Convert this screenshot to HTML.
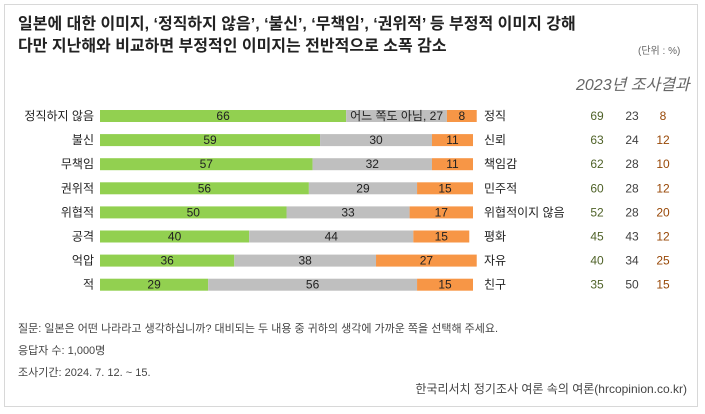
<!DOCTYPE html>
<html><head><meta charset="utf-8"><style>
body{margin:0;background:#fff;}
#root{position:relative;width:705px;height:414px;font-family:"Liberation Sans","Noto Sans CJK KR",sans-serif;color:#222;overflow:hidden;}
.frame{position:absolute;left:4px;top:4px;width:694px;height:403px;border:1px solid #d8d8d8;box-sizing:border-box;}
.t{position:absolute;white-space:nowrap;}
</style></head><body>
<div id="root">
<div class="frame"></div>
<div class="t" style="left:18px;top:14px;font-size:16px;font-weight:bold;line-height:22px;color:#222">일본에 대한 이미지, ‘정직하지 않음’, ‘불신’, ‘무책임’, ‘권위적’ 등 부정적 이미지 강해<br>다만 지난해와 비교하면 부정적인 이미지는 전반적으로 소폭 감소</div>
<div class="t" style="left:638px;top:42px;font-size:10px;color:#666">(단위 : %)</div>
<div class="t" style="left:576px;top:71px;font-size:16px;font-style:italic;color:#666">2023년 조사결과</div>
<svg id="chart" width="705" height="414" style="position:absolute;left:0;top:0"></svg>
<div class="t" style="left:18px;top:320px;font-size:11px;color:#444">질문: 일본은 어떤 나라라고 생각하십니까? 대비되는 두 내용 중 귀하의 생각에 가까운 쪽을 선택해 주세요.</div>
<div class="t" style="left:18px;top:342px;font-size:11px;color:#444">응답자 수: 1,000명</div>
<div class="t" style="left:18px;top:364px;font-size:11px;color:#444">조사기간: 2024. 7. 12. ~ 15.</div>
<div class="t" style="right:18px;top:380px;font-size:12px;color:#444">한국리서치 정기조사 여론 속의 여론(hrcopinion.co.kr)</div>
</div>
<script>
const negLabels=["정직하지 않음","불신","무책임","권위적","위협적","공격","억압","적"];
const posLabels=["정직","신뢰","책임감","민주적","위협적이지 않음","평화","자유","친구"];
const negValues=[66,59,57,56,50,40,36,29];
const midValues=[27,30,32,29,33,44,38,56];
const posValues=[8,11,11,15,17,15,27,15];
const prevNeg=[69,63,62,60,52,45,40,35];
const prevMid=[23,24,28,28,28,43,34,50];
const prevPos=[8,12,10,12,20,12,25,15];
const svg=document.getElementById('chart');
const NS='http://www.w3.org/2000/svg';
const x0=100,pxPer=3.73,y0=116,rowH=24.1,barH=12;
const xs=v=>x0+v*pxPer;
const ys=i=>y0+i*rowH;
function mk(tag,attrs,txt){const e=document.createElementNS(NS,tag);for(const k in attrs)e.setAttribute(k,attrs[k]);if(txt!==undefined)e.textContent=txt;svg.appendChild(e);return e;}
const F='"Liberation Sans","Noto Sans CJK KR",sans-serif';
negLabels.forEach((lab,i)=>{
 const y=ys(i);
 const a=negValues[i],b=midValues[i],c=posValues[i];
 const segs=[[0,a,'#92d050','negative'],[a,b,'#bfbfbf','neutral'],[a+b,c,'#f79646','positive']];
 segs.forEach(([s,w,col,nm],k)=>{
  const r=mk('rect',{x:xs(s),y:y-barH/2,width:xs(s+w)-xs(s),height:barH,fill:col});
  
  
  const txt=(i===0&&k===1)?'어느 쪽도 아님, '+w:String(w);
  const t=mk('text',{x:(xs(s)+xs(s+w))/2,y:y+4,'text-anchor':'middle','font-size':12,'font-family':F,fill:'#222'},txt);
  
  
 });
 const l=mk('text',{x:94,y:y+4,'text-anchor':'end','font-size':12,'font-family':F,fill:'#222'},lab);
 
 
 const p=mk('text',{x:484,y:y+4,'font-size':12,'font-family':F,fill:'#222'},posLabels[i]);
 
 
 [[prevNeg[i],597,'#4f6228','prev-negative'],[prevMid[i],632,'#404040','prev-neutral'],[prevPos[i],663,'#984807','prev-positive']].forEach(([v,x,col,nm])=>{
  const t=mk('text',{x:x,y:y+4,'text-anchor':'middle','font-size':12,'font-family':F,fill:col},String(v));
  
  
 });
});
</script>
</body></html>
